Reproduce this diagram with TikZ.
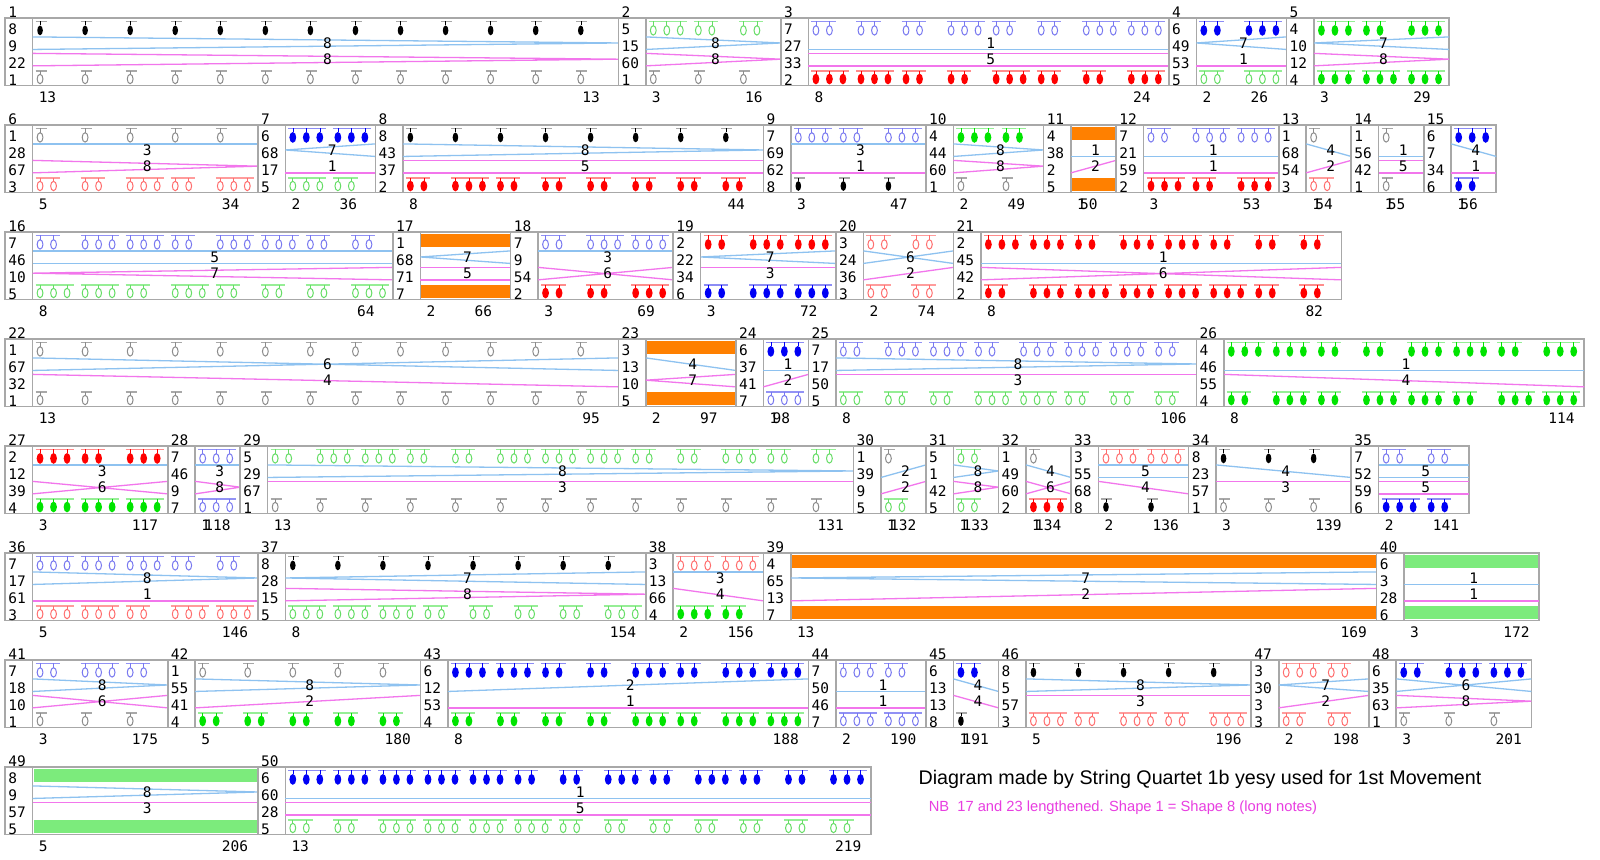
\documentclass[tikz,border=0pt]{standalone}
\usepackage{fontspec}
\setmainfont{Liberation Sans}
\newfontfamily\numf{DejaVu Sans Mono}
\definecolor{boxg}{HTML}{A8A8A8}
\definecolor{lblue}{HTML}{8EC2F0}
\definecolor{lpink}{HTML}{F276EC}
\definecolor{nbpink}{HTML}{E83EE0}
\definecolor{orbar}{HTML}{FF8000}
\definecolor{grbar}{HTML}{7CEB7C}
% head colours (1 gray hollow, 2 red filled, 3 salmon hollow, 4 green filled,
% 5 green hollow, 6 blue filled, 7 blue hollow, 8 black filled)
\definecolor{h1}{HTML}{8C8C8C}\definecolor{m1}{HTML}{A8A8A8}
\definecolor{h2}{HTML}{FF0000}\definecolor{m2}{HTML}{FF8C8C}
\definecolor{h3}{HTML}{FF6E6E}\definecolor{m3}{HTML}{FF9C9C}
\definecolor{h4}{HTML}{00E400}\definecolor{m4}{HTML}{96EE96}
\definecolor{h5}{HTML}{66DD66}\definecolor{m5}{HTML}{96EE96}
\definecolor{h6}{HTML}{0000F5}\definecolor{m6}{HTML}{8C8CF5}
\definecolor{h7}{HTML}{7878F0}\definecolor{m7}{HTML}{9292F5}
\definecolor{h8}{HTML}{000000}\definecolor{m8}{HTML}{A8A8A8}
\tikzset{
  boxline/.style={draw=boxg, line width=1.6},
  bline/.style={draw=lblue, line width=1.3},
  pline/.style={draw=lpink, line width=1.3},
  num/.style={font=\numf\fontsize{14.5}{14.5}\selectfont, inner sep=0pt},
}
\def\getfour#1,#2,#3,#4\relax{\gdef\nA{#1}\gdef\nB{#2}\gdef\nC{#3}\gdef\nD{#4}}
\newcommand\RowTop[1]{\pgfmathsetmacro\Mrt{18+107*(#1-1)}\xdef\Mrt{\Mrt}\xdef\curx{5.1}}
\newcommand\Lines[5]{%
  \ifcase#1\relax
  \or \draw[#5] (\Mbl,#4) -- (\Mbr,#4);
  \or \draw[#5] (\Mbl,#4) -- (\Mbr,#2);
  \or \draw[#5] (\Mbl,#2) -- (\Mbr,#2);
  \or \draw[#5] (\Mbl,#2) -- (\Mbr,#4);
  \or \draw[#5] (\Mbl,#2) -- (\Mbr,#2) (\Mbl,#4) -- (\Mbr,#4);
  \or \draw[#5] (\Mbl,#2) -- (\Mbr,#4) (\Mbl,#4) -- (\Mbr,#2);
  \or \draw[#5] (\Mbl,#3) -- (\Mbr,#2) (\Mbl,#3) -- (\Mbr,#4);
  \or \draw[#5] (\Mbl,#2) -- (\Mbr,#3) (\Mbl,#4) -- (\Mbr,#3);
  \fi}
\newcommand\Core[7]{%
  \getfour#3\relax
  \pgfmathsetmacro\Mxa{\curx}\xdef\Mxa{\Mxa}%
  \pgfmathsetmacro\Mbl{\curx+27.45}\xdef\Mbl{\Mbl}%
  \pgfmathsetmacro\Mbr{\Mbl+45.06*#2}\xdef\Mbr{\Mbr}%
  \xdef\Mbt{\Mrt}%
  \pgfmathsetmacro\Mbb{\Mrt+67.5}\xdef\Mbb{\Mbb}%
  \draw[boxline] (\Mxa,\Mbt) rectangle (\Mbr,\Mbb);
  \draw[boxline] (\Mbl,\Mbt) -- (\Mbl,\Mbb);
  \node[num,anchor=west] (lab#1) at (\Mxa+3,\Mbt-5.5) {#1};
  \node[num,anchor=west] (na#1) at (\Mxa+3,\Mbt+11.5) {\nA};
  \node[num,anchor=west] (nb#1) at (\Mxa+3,\Mbt+28.3) {\nB};
  \node[num,anchor=west] (nc#1) at (\Mxa+3,\Mbt+45.1) {\nC};
  \node[num,anchor=west] (nd#1) at (\Mxa+3,\Mbt+61.9) {\nD};
  \node[num,anchor=west] (dur#1) at (\Mbl+6,\Mbb+12) {#6};
  \pgfmathsetmacro\Mrx{\Mbl+45.06*(#2-1)+9}%
  \node[num,anchor=west] (cum#1) at (\Mrx,\Mbb+12) {#7};
  \pgfmathsetmacro\yBH{\Mbt+0.28*67.5}\pgfmathsetmacro\yBM{\Mbt+0.37*67.5}\pgfmathsetmacro\yBL{\Mbt+0.466*67.5}%
  \pgfmathsetmacro\yPH{\Mbt+0.524*67.5}\pgfmathsetmacro\yPM{\Mbt+0.61*67.5}\pgfmathsetmacro\yPL{\Mbt+0.709*67.5}%
  \Lines{#4}{\yBH}{\yBM}{\yBL}{bline}
  \Lines{#5}{\yPH}{\yPM}{\yPL}{pline}
  \pgfmathsetmacro\Mmx{(\Mbl+\Mbr)/2+2}\xdef\Mmx{\Mmx}%
  \gdef\cA{#4}\gdef\cB{#5}\gdef\Mid{#1}%
  \xdef\curx{\Mbr}}
\newcommand\Centers{%
  \node[num] (ca\Mid) at (\Mmx,\Mbt+0.37*67.5) {\cA};
  \node[num] (cb\Mid) at (\Mmx,\Mbt+0.61*67.5) {\cB};}
\newcommand\Head[4]{%
  \ifodd#1\relax
    \draw[color=h#1, line width=1] (#2,#3) ellipse (2.9 and 4.7);
    \draw[color=h#1, line width=0.7] (#2,#3-4.7) -- (#2,#4);
  \else
    \ifnum#1=8\relax
      \fill[color=h#1] (#2,#3) ellipse (2.8 and 4.9);
    \else
      \fill[color=h#1] (#2,#3) ellipse (3.4 and 5.4);
    \fi
    \draw[color=h#1, line width=0.5] (#2,#3-5) -- (#2,#4);
  \fi}
\newcommand\Groups[4]{%
  \foreach \gn [count=\gk from 0] in {#2} {
    \pgfmathsetmacro\gx{\Mbl+45.06*\gk+7.5}
    \pgfmathsetmacro\gxe{\gx+13.5*(\gn-1)}
    \draw[color=m#1, line width=1.4] (\gx-4.5,#4) -- (\gxe+6.5,#4);
    \foreach \gj in {1,...,\gn} {
      \pgfmathsetmacro\hx{\gx+13.5*(\gj-1)}
      \Head{#1}{\hx}{#3}{#4}
    }
  }}
% #1 idx #2 dur #3 nums #4 c1 #5 c2 #6 left #7 right #8 top groups #9 bottom groups
\newcommand\Meas[9]{%
  \Core{#1}{#2}{#3}{#4}{#5}{#6}{#7}%
  \Groups{\nA}{#8}{\Mbt+12.4}{\Mbt+3.4}%
  \Groups{\nD}{#9}{\Mbt+61.0}{\Mbt+53.0}%
  \Centers}
\newcommand\MeasBar[8]{%
  \Core{#1}{#2}{#3}{#4}{#5}{#6}{#7}%
  \fill[color=#8] (\Mbl+1,\Mbt+2) rectangle (\Mbr-1,\Mbt+14.5);
  \fill[color=#8] (\Mbl+1,\Mbb-14.5) rectangle (\Mbr-1,\Mbb-2);
  \Centers}
\begin{document}
\begin{tikzpicture}[x=1pt,y=-1pt]
\useasboundingbox (0,0) rectangle (1600,859);
\fill[white] (0,0) rectangle (1600,859);
% row 1
\RowTop{1}
\Meas{1}{13}{8,9,22,1}{8}{8}{13}{13}{1,1,1,1,1,1,1,1,1,1,1,1,1}{1,1,1,1,1,1,1,1,1,1,1,1,1}
\Meas{2}{3}{5,15,60,1}{8}{8}{3}{16}{3,2,2}{1,1,1}
\Meas{3}{8}{7,27,33,2}{1}{5}{8}{24}{2,2,2,3,2,2,3,3}{3,3,2,2,3,2,2,3}
\Meas{4}{2}{6,49,53,5}{7}{1}{2}{26}{2,3}{2,3}
\Meas{5}{3}{4,10,12,4}{7}{8}{3}{29}{3,2,3}{3,3,3}
% row 2
\RowTop{2}
\Meas{6}{5}{1,28,67,3}{3}{8}{5}{34}{1,1,1,1,1}{2,2,3,2,3}
\Meas{7}{2}{6,68,17,5}{7}{1}{2}{36}{3,3}{3,2}
\Meas{8}{8}{8,43,37,2}{8}{5}{8}{44}{1,1,1,1,1,1,1,1}{2,3,2,2,2,2,2,2}
\Meas{9}{3}{7,69,62,8}{3}{1}{3}{47}{3,2,3}{1,1,1}
\Meas{10}{2}{4,44,60,1}{8}{8}{2}{49}{3,2}{1,1}
\MeasBar{11}{1}{4,38,2,5}{1}{2}{1}{50}{orbar}
\Meas{12}{3}{7,21,59,2}{1}{1}{3}{53}{2,3,3}{3,2,3}
\Meas{13}{1}{1,68,54,3}{4}{2}{1}{54}{1}{2}
\Meas{14}{1}{1,56,42,1}{1}{5}{1}{55}{1}{1}
\Meas{15}{1}{6,7,34,6}{4}{1}{1}{56}{3}{2}
% row 3
\RowTop{3}
\Meas{16}{8}{7,46,10,5}{5}{7}{8}{64}{2,3,3,2,3,3,2,2}{3,3,2,3,2,2,2,3}
\MeasBar{17}{2}{1,68,71,7}{7}{5}{2}{66}{orbar}
\Meas{18}{3}{7,9,54,2}{3}{6}{3}{69}{2,3,3}{2,2,3}
\Meas{19}{3}{2,22,34,6}{7}{3}{3}{72}{2,3,3}{2,3,3}
\Meas{20}{2}{3,24,36,3}{6}{2}{2}{74}{2,2}{2,2}
\Meas{21}{8}{2,45,42,2}{1}{6}{8}{82}{3,3,2,3,3,2,2,2}{2,3,3,3,3,3,2,2}
% row 4
\RowTop{4}
\Meas{22}{13}{1,67,32,1}{6}{4}{13}{95}{1,1,1,1,1,1,1,1,1,1,1,1,1}{1,1,1,1,1,1,1,1,1,1,1,1,1}
\MeasBar{23}{2}{3,13,10,5}{4}{7}{2}{97}{orbar}
\Meas{24}{1}{6,37,41,7}{1}{2}{1}{98}{3}{3}
\Meas{25}{8}{7,17,50,5}{8}{3}{8}{106}{2,3,3,2,3,3,3,2}{2,2,2,3,3,2,2,2}
\Meas{26}{8}{4,46,55,4}{1}{4}{8}{114}{3,3,2,2,3,3,2,3}{2,3,2,3,3,2,3,3}
% row 5
\RowTop{5}
\Meas{27}{3}{2,12,39,4}{3}{6}{3}{117}{3,2,3}{3,3,3}
\Meas{28}{1}{7,46,9,7}{3}{8}{1}{118}{3}{3}
\Meas{29}{13}{5,29,67,1}{8}{3}{13}{131}{2,3,3,2,2,3,3,3,2,2,3,2,2}{1,1,1,1,1,1,1,1,1,1,1,1,1}
\Meas{30}{1}{1,39,9,5}{2}{2}{1}{132}{1}{2}
\Meas{31}{1}{5,1,42,5}{8}{8}{1}{133}{2}{2}
\Meas{32}{1}{1,49,60,2}{4}{6}{1}{134}{1}{3}
\Meas{33}{2}{3,55,68,8}{5}{4}{2}{136}{3,3}{1,1}
\Meas{34}{3}{8,23,57,1}{4}{3}{3}{139}{1,1,1}{1,1,1}
\Meas{35}{2}{7,52,59,6}{5}{5}{2}{141}{2,2}{3,2}
% row 6
\RowTop{6}
\Meas{36}{5}{7,17,61,3}{8}{1}{5}{146}{3,3,3,2,2}{3,3,2,3,3}
\Meas{37}{8}{8,28,15,5}{7}{8}{8}{154}{1,1,1,1,1,1,1,1}{3,3,3,2,2,2,2,3}
\Meas{38}{2}{3,13,66,4}{3}{4}{2}{156}{3,3}{3,2}
\MeasBar{39}{13}{4,65,13,7}{7}{2}{13}{169}{orbar}
\MeasBar{40}{3}{6,3,28,6}{1}{1}{3}{172}{grbar}
% row 7
\RowTop{7}
\Meas{41}{3}{7,18,10,1}{8}{6}{3}{175}{2,3,2}{1,1,1}
\Meas{42}{5}{1,55,41,4}{8}{2}{5}{180}{1,1,1,1,1}{2,2,2,2,2}
\Meas{43}{8}{6,12,53,4}{2}{1}{8}{188}{3,3,2,2,3,2,3,3}{2,2,2,2,3,2,3,3}
\Meas{44}{2}{7,50,46,7}{1}{1}{2}{190}{3,2}{3,3}
\Meas{45}{1}{6,13,13,8}{4}{4}{1}{191}{2}{1}
\Meas{46}{5}{8,5,57,3}{8}{3}{5}{196}{1,1,1,1,1}{3,2,3,2,3}
\Meas{47}{2}{3,30,3,3}{7}{2}{2}{198}{3,2}{2,2}
\Meas{48}{3}{6,35,63,1}{6}{8}{3}{201}{2,3,3}{1,1,1}
% row 8
\RowTop{8}
\MeasBar{49}{5}{8,9,57,5}{8}{3}{5}{206}{grbar}
\Meas{50}{13}{6,60,28,5}{1}{5}{13}{219}{3,3,3,3,3,2,2,3,2,3,2,2,3}{2,2,3,3,3,3,2,2,2,2,2,2,2}
% captions
\node[anchor=west, inner sep=0pt, font=\fontsize{19.7}{20}\selectfont] (cap) at (918.4,779.6) {Diagram made by String Quartet 1b yesy used for 1st Movement};
\node[anchor=west, inner sep=0pt, text=nbpink, font=\fontsize{14.7}{15}\selectfont] (nb) at (928.6,808) {NB\ \ 17 and 23 lengthened. Shape 1 = Shape 8 (long notes)};
\end{tikzpicture}
\end{document}
